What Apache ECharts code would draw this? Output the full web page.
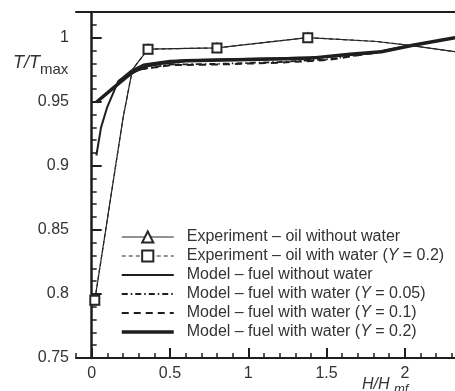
<!DOCTYPE html>
<html><head><meta charset="utf-8">
<script src="https://cdn.jsdelivr.net/npm/echarts@6/dist/echarts.min.js"></script>
<style>html,body{margin:0;padding:0;background:#fff}#c{width:455px;height:391px}</style>
</head><body><div id="c"></div>
<script>
// tick labels
const xMajorTicks = [0, 0.5, 1, 1.5, 2];
const yMajorTicks = [0.75, 0.8, 0.85, 0.9, 0.95, 1];

// series names
const seriesNames = [
  'Experiment \u2013 oil without water',
  'Experiment \u2013 oil with water (Y = 0.2)',
  'Model \u2013 fuel without water',
  'Model \u2013 fuel with water (Y = 0.05)',
  'Model \u2013 fuel with water (Y = 0.1)',
  'Model \u2013 fuel with water (Y = 0.2)'
];

// Experiment – oil without water
const expNoWaterX = [0.02, 0.2, 0.26, 0.36, 0.8, 1.38, 1.82, 2.03, 2.32];
const expNoWaterY = [0.795, 0.937, 0.975, 0.991, 0.992, 1.0, 0.997, 0.994, 0.989];
const expNoWaterMarkers = [0.02, 0.36, 0.8, 1.38];

// Experiment – oil with water (Y = 0.2)
const expWaterX = [0.02, 0.2, 0.26, 0.36, 0.8, 1.38, 1.82, 2.03, 2.32];
const expWaterY = [0.795, 0.937, 0.975, 0.991, 0.992, 1.0, 0.997, 0.994, 0.989];
const expWaterMarkers = [0.02, 0.36, 0.8, 1.38];

// Model – fuel without water
const modelNoWaterX = [0.03, 0.06, 0.1, 0.17, 0.25, 0.33, 0.5, 0.8, 1.2, 1.5, 1.8, 2.0, 2.32];
const modelNoWaterY = [0.908, 0.93, 0.946, 0.966, 0.974, 0.979, 0.982, 0.983, 0.984, 0.985, 0.988, 0.993, 1.0];

// Model – fuel with water (Y = 0.05)
const modelY005X = [0.17, 0.3, 0.5, 0.8, 1.2, 1.5, 1.8, 2.0, 2.32];
const modelY005Y = [0.966, 0.975, 0.979, 0.9795, 0.981, 0.983, 0.988, 0.993, 1.0];

// Model – fuel with water (Y = 0.1)
const modelY01X = [0.17, 0.3, 0.5, 0.8, 1.2, 1.5, 1.8, 2.0, 2.32];
const modelY01Y = [0.966, 0.975, 0.9785, 0.979, 0.9805, 0.9825, 0.988, 0.993, 1.0];

// Model – fuel with water (Y = 0.2)
const modelY02X = [0.03, 0.15, 0.26, 0.35, 0.44, 0.6, 1.0, 1.4, 1.65, 1.85, 2.05, 2.32];
const modelY02Y = [0.9496, 0.962, 0.973, 0.978, 0.98, 0.982, 0.983, 0.984, 0.987, 0.989, 0.994, 1.0];

function pairs(xs, ys, markers) {
  return xs.map((x, i) => {
    const item = { value: [x, ys[i]] };
    if (markers && markers.indexOf(x) < 0) item.symbol = 'none';
    return item;
  });
}
function range(a, b, step, exclude) {
  const out = [];
  for (let v = a; v <= b + 1e-9; v += step) {
    const r = Math.round(v * 1000) / 1000;
    if (!exclude.some(e => Math.abs(e - r) < 1e-6)) out.push(r);
  }
  return out;
}
const xMinor = range(-0.1, 2.3, 0.1, xMajorTicks);
const yMinor = range(0.76, 1.02, 0.01, yMajorTicks);

const ink = '#1e1e1e';
const txt = '#333';
const clear = 'rgba(0,0,0,0)';
const font = '"Liberation Sans", Arial, sans-serif';

const chart = echarts.init(document.getElementById('c'), null, { renderer: 'canvas' });
const XMIN = -0.1, XMAX = 2.32, YMIN = 0.75, YMAX = 1.02;
const grid = { left: 76, right: 0, top: 12, bottom: 33 };

function legendFmt(name) {
  const m = name.match(/^(.*\()Y( = .*)$/);
  if (!m) return '{p| }{n|' + name + '}';
  return '{p| }{n|' + m[1] + '}{i|Y}{n|' + m[2] + '}';
}

const lineStyles = [
  { color: '#262626', width: 1.2 },
  { color: '#262626', width: 1.2, type: [4, 3] },
  { color: ink, width: 2 },
  { color: ink, width: 1.8, type: [6, 3, 1.5, 3] },
  { color: ink, width: 2, type: [7, 5] },
  { color: ink, width: 3.5 }
];

function modelSeries(idx, xs, ys) {
  return {
    name: seriesNames[idx], type: 'line', symbol: 'circle', showSymbol: false, z: 3,
    lineStyle: lineStyles[idx],
    itemStyle: { color: clear, borderWidth: 0 },
    emphasis: { disabled: true },
    data: pairs(xs, ys)
  };
}

chart.setOption({
  animation: false,
  backgroundColor: '#fff',
  grid: grid,
  legend: {
    orient: 'vertical',
    left: 115, top: 224,
    itemWidth: 52, itemHeight: 14, itemGap: 3,
    data: seriesNames.map((n, i) => ({ name: n, lineStyle: lineStyles[i] })),
    formatter: legendFmt,
    textStyle: {
      fontFamily: font, fontSize: 16, color: txt, lineHeight: 14,
      rich: {
        p: { width: 8, fontSize: 16, lineHeight: 14 },
        n: { fontFamily: font, fontSize: 16, color: txt, lineHeight: 14 },
        i: { fontFamily: font, fontSize: 16, color: txt, fontStyle: 'italic', lineHeight: 14 }
      }
    },
    selectedMode: false
  },
  xAxis: [
    {
      type: 'value', min: XMIN, max: XMAX, position: 'bottom',
      axisLine: { show: true, lineStyle: { color: ink, width: 2 } },
      axisTick: { show: true, inside: true, length: 10, lineStyle: { color: ink, width: 2 }, customValues: xMajorTicks },
      axisLabel: { customValues: xMajorTicks, fontFamily: font, fontSize: 16, color: txt, margin: 8 },
      splitLine: { show: false }
    },
    {
      type: 'value', min: XMIN, max: XMAX, position: 'bottom',
      axisLine: { show: false },
      axisTick: { show: true, inside: true, length: 5, lineStyle: { color: ink, width: 1.5 }, customValues: xMinor },
      axisLabel: { show: false },
      splitLine: { show: false }
    },
    {
      type: 'value', min: XMIN, max: XMAX, position: 'top',
      axisLine: { show: true, lineStyle: { color: ink, width: 2 } },
      axisTick: { show: false }, axisLabel: { show: false }, splitLine: { show: false }
    }
  ],
  yAxis: [
    {
      type: 'value', min: YMIN, max: YMAX, position: 'left',
      axisLine: { show: true, lineStyle: { color: ink, width: 2.5 } },
      axisTick: { show: true, inside: true, length: 10, lineStyle: { color: ink, width: 2 }, customValues: yMajorTicks },
      axisLabel: { customValues: yMajorTicks, fontFamily: font, fontSize: 16, color: txt, margin: 7 },
      splitLine: { show: false }
    },
    {
      type: 'value', min: YMIN, max: YMAX, position: 'left',
      axisLine: { show: false },
      axisTick: { show: true, inside: true, length: 5, lineStyle: { color: ink, width: 1.5 }, customValues: yMinor },
      axisLabel: { show: false },
      splitLine: { show: false }
    }
  ],
  series: [
    modelSeries(2, modelNoWaterX, modelNoWaterY),
    modelSeries(3, modelY005X, modelY005Y),
    modelSeries(4, modelY01X, modelY01Y),
    modelSeries(5, modelY02X, modelY02Y),
    {
      name: seriesNames[0], type: 'line', symbol: 'emptyTriangle', symbolSize: 8, z: 4,
      lineStyle: lineStyles[0], itemStyle: { color: '#262626', borderWidth: 1.2 },
      data: pairs(expNoWaterX, expNoWaterY, expNoWaterMarkers)
    },
    {
      name: seriesNames[1], type: 'line', symbol: 'emptyRect', symbolSize: 9, z: 5,
      lineStyle: lineStyles[1], itemStyle: { color: '#262626', borderWidth: 1.2 },
      data: pairs(expWaterX, expWaterY, expWaterMarkers)
    }
  ],
  graphic: [
    { type: 'text', left: 13, top: 54, style: { text: 'T/T', font: 'italic 18px ' + font, fill: txt } },
    { type: 'text', left: 40, top: 62, style: { text: 'max', font: '15px ' + font, fill: txt } },
    { type: 'text', left: 362, top: 377, style: { text: 'H/H', font: 'italic 16px ' + font, fill: txt } },
    { type: 'text', left: 394, top: 383, style: { text: 'mf', font: 'italic 13px ' + font, fill: txt } }
  ]
});
</script>
</body></html>
